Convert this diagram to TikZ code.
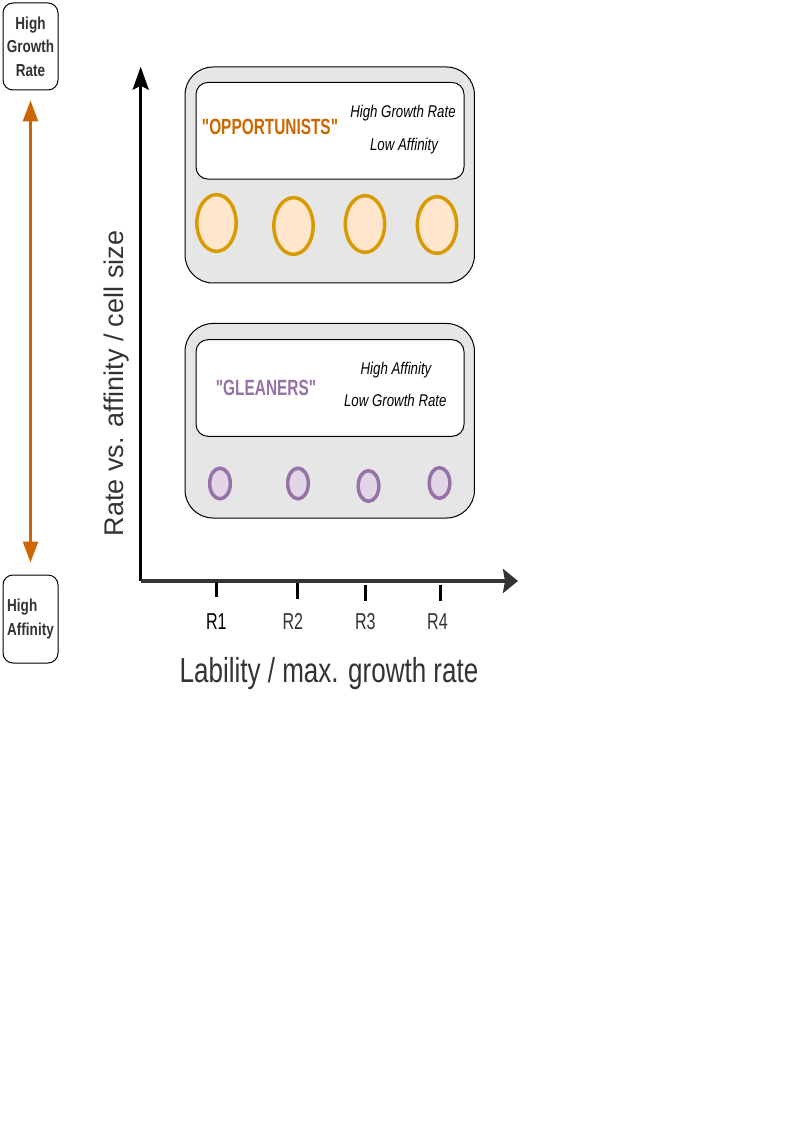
\documentclass[tikz,border=0pt]{standalone}
\usepackage{fontspec}
\setmainfont{Liberation Sans}
\newfontfamily\nar[FakeStretch=0.78]{Liberation Sans}
\newfontfamily\narr[FakeStretch=0.7]{Liberation Sans}
\newfontfamily\narm[FakeStretch=0.75]{Liberation Sans}
\usetikzlibrary{shapes.geometric,arrows.meta}
\definecolor{orng}{HTML}{CC6600}
\definecolor{dgray}{HTML}{333333}
\definecolor{panelgray}{HTML}{E6E6E6}
\definecolor{oppfill}{HTML}{FFE6CC}
\definecolor{oppline}{HTML}{D79B00}
\definecolor{glefill}{HTML}{E1D5E7}
\definecolor{gleline}{HTML}{9673A6}
\tikzset{
  sidebox/.style={draw=black, line width=0.75pt, rounded corners=7.5pt, fill=white,
    minimum width=41.25pt, inner sep=0pt, text=dgray,
    font=\nar\bfseries\fontsize{13}{17.5}\selectfont},
  panel/.style={draw=black, line width=0.75pt, fill=panelgray, rounded corners=21pt,
    minimum width=217.1pt, inner sep=0pt},
  labelbox/.style={draw=black, line width=0.75pt, fill=white, rounded corners=9pt,
    minimum width=201pt, minimum height=72.5pt, inner sep=0pt},
  bigcell/.style={ellipse, draw=oppline, fill=oppfill, line width=2.6pt,
    minimum width=29.5pt, minimum height=42.5pt, inner sep=0pt},
  smallcell/.style={ellipse, draw=gleline, fill=glefill, line width=2.6pt,
    minimum width=15.5pt, minimum height=23pt, inner sep=0pt},
  title/.style={font=\narr\bfseries\fontsize{16.5}{19}\selectfont, inner sep=0pt},
  trait/.style={font=\nar\itshape\fontsize{12.75}{15}\selectfont, inner sep=0pt, anchor=base},
  rlabel/.style={font=\narr\fontsize{17.25}{20}\selectfont, inner sep=0pt, anchor=base, text=dgray},
  tick/.style={draw=black, line width=2.25pt},
}
\begin{document}
\begin{tikzpicture}[x=0.75pt,y=-0.75pt]
\useasboundingbox (0,0) rectangle (795,1126);

% left scale boxes
\node[sidebox, minimum height=65.25pt, align=center] (hgr) at (30.5,46.5) {High\\Growth\\Rate};
\node[sidebox, minimum height=66pt, align=left] (haf) at (30.5,619) {High\\Affinity};
\draw[orng, line width=1.9pt, shorten <=7.5pt, shorten >=9pt,
  {Triangle[length=15.75pt,width=11.25pt]}-{Triangle[length=15.75pt,width=11.25pt]}]
  (hgr.south) -- (haf.north);

% panels
\node[panel, minimum height=162pt] (opppanel) at (329.75,175) {};
\node[labelbox] (oppbox) at (330,130.75) {};
\node[panel, minimum height=145.9pt] (glepanel) at (329.75,420.75) {};
\node[labelbox] (glebox) at (330,388) {};

\node[title, text=orng] (opptitle) at (270,126.5) {"OPPORTUNISTS"};
\node[trait] (opp1) at (403,117.3) {High Growth Rate};
\node[trait] (opp2) at (404,150.7) {Low Affinity};

\node[title, text=gleline] (gletitle) at (266,388) {"GLEANERS"};
\node[trait] (gle1) at (396,374) {High Affinity};
\node[trait] (gle2) at (395.3,406) {Low Growth Rate};

% cells
\node[bigcell] (o1) at (216.5,223) {};
\node[bigcell] (o2) at (293.5,226) {};
\node[bigcell] (o3) at (365,224) {};
\node[bigcell] (o4) at (437,225) {};
\node[smallcell] (g1) at (220,483.5) {};
\node[smallcell] (g2) at (298,483.5) {};
\node[smallcell] (g3) at (368.5,486) {};
\node[smallcell] (g4) at (439.5,483) {};

% axes
\coordinate (origin) at (140.7,581);
\coordinate (ytop) at (140.7,66.7);
\coordinate (xend) at (518,581);
\draw[black, line width=2.25pt, -{Stealth[length=17.25pt,width=12pt,inset=3pt]}] (origin) -- (ytop);
\draw[dgray, line width=3pt, -{Stealth[length=11.25pt,width=18pt,inset=1.5pt]}] (origin) -- (xend);

% ticks
\coordinate (t1a) at (216.7,582); \coordinate (t1b) at (216.7,597);
\coordinate (t2a) at (297.1,583); \coordinate (t2b) at (297.1,599);
\coordinate (t3a) at (365.3,585); \coordinate (t3b) at (365.3,601);
\coordinate (t4a) at (440.7,585); \coordinate (t4b) at (440.7,600.5);
\draw[tick] (t1a) -- (t1b);
\draw[tick] (t2a) -- (t2b);
\draw[tick] (t3a) -- (t3b);
\draw[tick] (t4a) -- (t4b);

\node[rlabel, text=black] (r1) at (216.4,629.5) {R1};
\node[rlabel] (r2) at (292.9,629.5) {R2};
\node[rlabel] (r3) at (365.3,629.5) {R3};
\node[rlabel] (r4) at (437.5,629.5) {R4};

% axis titles
\node[font=\narm\fontsize{26}{30}\selectfont, text=dgray, inner sep=0pt, anchor=base] (xlab) at (329,682) {Lability / max. growth rate};
\node[font=\fontsize{20.25}{24}\selectfont, text=dgray, inner sep=0pt, anchor=base, rotate=90] (ylab) at (123.5,383.5) {Rate vs. affinity / cell size};
\end{tikzpicture}
\end{document}
